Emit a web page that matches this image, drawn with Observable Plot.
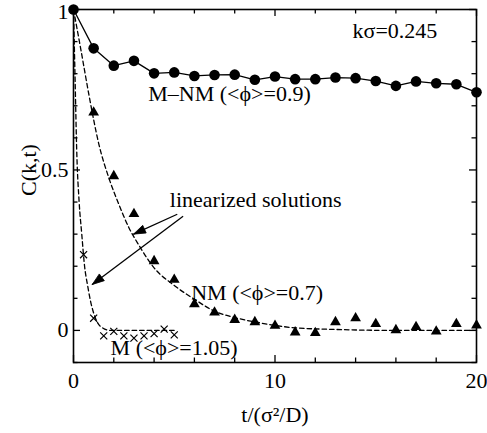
<!DOCTYPE html>
<html><head><meta charset="utf-8">
<script src="https://cdn.jsdelivr.net/npm/d3@7"></script>
<script src="https://cdn.jsdelivr.net/npm/@observablehq/plot@0.6"></script>
<style>body{margin:0;background:#fff} svg{display:block}</style>
</head><body><div id="chart"></div>
<script>
// ---- data ----
const mnmT = [0,1,2,3,4,5,6,7,8,9,10,11,12,13,14,15,16,17,18,19,20];
const mnmC = [1,0.879,0.825,0.840,0.801,0.804,0.793,0.796,0.797,0.781,0.791,0.783,0.783,0.788,0.786,0.777,0.762,0.776,0.770,0.767,0.742];

const nmT = [1,2,3,4,5,6,7,8,9,10,11,12,13,14,15,16,17,18,19,20];
const nmC = [0.679,0.481,0.363,0.216,0.158,0.082,0.056,0.033,0.026,0.015,-0.006,-0.008,0.026,0.038,0.020,0.001,0.011,-0.003,0.020,0.016];

const mT = [0.5,1,1.5,2,2.5,3,3.5,4,4.5,5];
const mC = [0.236,0.038,-0.017,-0.003,-0.017,-0.024,-0.017,-0.010,0.004,-0.014];

// linearized solutions (dashed curves)
const linNmT = [0,0.38,0.76,1.26,1.75,2.25,2.75,3.25,4,5,6,7,8,9.3,11,13,16,20];
const linNmC = [1,0.87,0.736,0.58,0.476,0.393,0.32,0.265,0.195,0.14,0.097,0.06,0.04,0.023,0.008,0.003,0,0];
const linMT = [0,0.08,0.16,0.28,0.41,0.55,0.7,0.85,1.09,1.34,1.84,5];
const linMC = [1,0.78,0.56,0.40,0.30,0.20,0.14,0.09,0.038,0.0125,0,0];

// arrows (start -> tip)
const arrX1 = [5.15,5.44], arrY1 = [0.362,0.356];
const arrX2 = [2.98,0.93], arrY2 = [0.300,0.143];

// annotations
const labelText = ["k\u03c3=0.245","M\u2013NM (<\u03d5>=0.9)","linearized solutions","NM (<\u03d5>=0.7)","M (<\u03d5>=1.05)"];
const labelX = [13.85,3.71,4.78,5.84,1.84];
const labelY = [0.911,0.716,0.384,0.094,-0.078];

// ticks
const xMajor = [0,10,20], xMinor = [2,4,6,8,12,14,16,18];
const yMajor = [0,0.5,1], yMinor = [-0.1,0.1,0.2,0.3,0.4,0.6,0.7,0.8,0.9];
const yLabelTicks = [0,0.5], yTopTick = [1];
const xTitle = "t/(\u03c3\u00b2/D)", yTitle = "C(k,t)";

// ---- layout ----
const W=487,H=433,ML=73,MR=11,MT=9,MB=71;
const FH=H-MT-MB, FW=W-ML-MR;
const FONT="Liberation Serif, 'Times New Roman', serif";

const toRows = (xs, ys) => xs.map((x,i)=>({x, y: ys[i]}));
const mnm = toRows(mnmT,mnmC), nm = toRows(nmT,nmC), m = toRows(mT,mC);
const linNm = toRows(linNmT,linNmC), linM = toRows(linMT,linMC);
const arrows = arrX1.map((x1,i)=>({x1, y1: arrY1[i], x2: arrX2[i], y2: arrY2[i]}));
const labels = labelText.map((t,i)=>({t, x: labelX[i], y: labelY[i]}));

const base = {
  width: W, height: H, marginLeft: ML, marginRight: MR, marginTop: MT, marginBottom: MB,
  style: {fontFamily: FONT, fontSize: "22px", background: "#fff", color: "#000"},
  x: {domain: [0,20], ticks: xMajor, tickSize: 0, tickPadding: 10, tickFormat: d3.format("d"), label: null},
  y: {domain: [-0.1,1], ticks: yLabelTicks, tickSize: 0, tickPadding: 5, tickFormat: d => String(d), label: null}
};

// probe for the scales to shape filled arrow heads
const probe = Plot.plot({...base, marks: []});
const sx = probe.scale("x"), sy = probe.scale("y");
const heads = [];
arrows.forEach((a,i) => {
  const px1 = sx.apply(a.x1), py1 = sy.apply(a.y1), px2 = sx.apply(a.x2), py2 = sy.apply(a.y2);
  const dx = px2-px1, dy = py2-py1, len = Math.hypot(dx,dy);
  const ux = dx/len, uy = dy/len, L = 12, hw = 4.2;
  const bx = px2 - ux*L, by = py2 - uy*L;
  const pts = [[px2,py2],[bx - uy*hw, by + ux*hw],[bx + uy*hw, by - ux*hw],[px2,py2]];
  pts.forEach(([px,py]) => heads.push({id: i, x: sx.invert(px), y: sy.invert(py)}));
});

const tick = (len) => ({
  bottom: (v) => Plot.tickX(v, {x: d=>d, insetTop: FH-len, strokeWidth: 1.3}),
  top: (v) => Plot.tickX(v, {x: d=>d, insetBottom: FH-len, strokeWidth: 1.3}),
  left: (v) => Plot.tickY(v, {y: d=>d, insetRight: FW-len, strokeWidth: 1.3}),
  right: (v) => Plot.tickY(v, {y: d=>d, insetLeft: FW-len, strokeWidth: 1.3})
});
const maj = tick(7), mnr = tick(4.5);

const chart = Plot.plot({
  ...base,
  marks: [
    maj.bottom(xMajor), maj.top(xMajor), mnr.bottom(xMinor), mnr.top(xMinor),
    maj.left(yMajor), maj.right(yMajor), mnr.left(yMinor), mnr.right(yMinor),
    Plot.frame({stroke: "#000", strokeWidth: 1.6}),
    Plot.text(yTopTick, {x: 0, y: d=>d, text: d => String(d), textAnchor: "end", dx: -5, dy: 2, lineAnchor: "middle", fontSize: 22, fill: "#000"}),
    Plot.line(linNm, {x: "x", y: "y", curve: "monotone-x", stroke: "#000", strokeWidth: 1.3, strokeDasharray: "4.5,3"}),
    Plot.line(linM, {x: "x", y: "y", curve: "monotone-x", stroke: "#000", strokeWidth: 1.3, strokeDasharray: "4.5,3"}),
    Plot.line(mnm, {x: "x", y: "y", stroke: "#000", strokeWidth: 1.3}),
    Plot.link(arrows, {x1: "x1", y1: "y1", x2: "x2", y2: "y2", stroke: "#000", strokeWidth: 1.3}),
    Plot.line(heads, {x: "x", y: "y", z: "id", fill: "#000", stroke: "#000", strokeWidth: 0.8}),
    Plot.dot(mnm, {x: "x", y: "y", r: 5.3, fill: "#000", stroke: "none"}),
    Plot.dot(nm, {x: "x", y: "y", r: 4, symbol: "triangle", fill: "#000", stroke: "none"}),
    Plot.dot(m, {x: "x", y: "y", r: 3.3, symbol: "times", stroke: "#000", strokeWidth: 1.2}),
    Plot.text(labels, {x: "x", y: "y", text: "t", textAnchor: "start", lineAnchor: "bottom", fontSize: 22, fill: "#000"}),
    Plot.text([xTitle], {frameAnchor: "bottom", dy: 59, lineAnchor: "bottom", fontSize: 22, fill: "#000"}),
    Plot.text([yTitle], {frameAnchor: "left", dx: -45, dy: 10, rotate: -90, lineAnchor: "middle", fontSize: 22, fill: "#000"})
  ]
});
document.getElementById("chart").appendChild(chart);
</script>
</body></html>
